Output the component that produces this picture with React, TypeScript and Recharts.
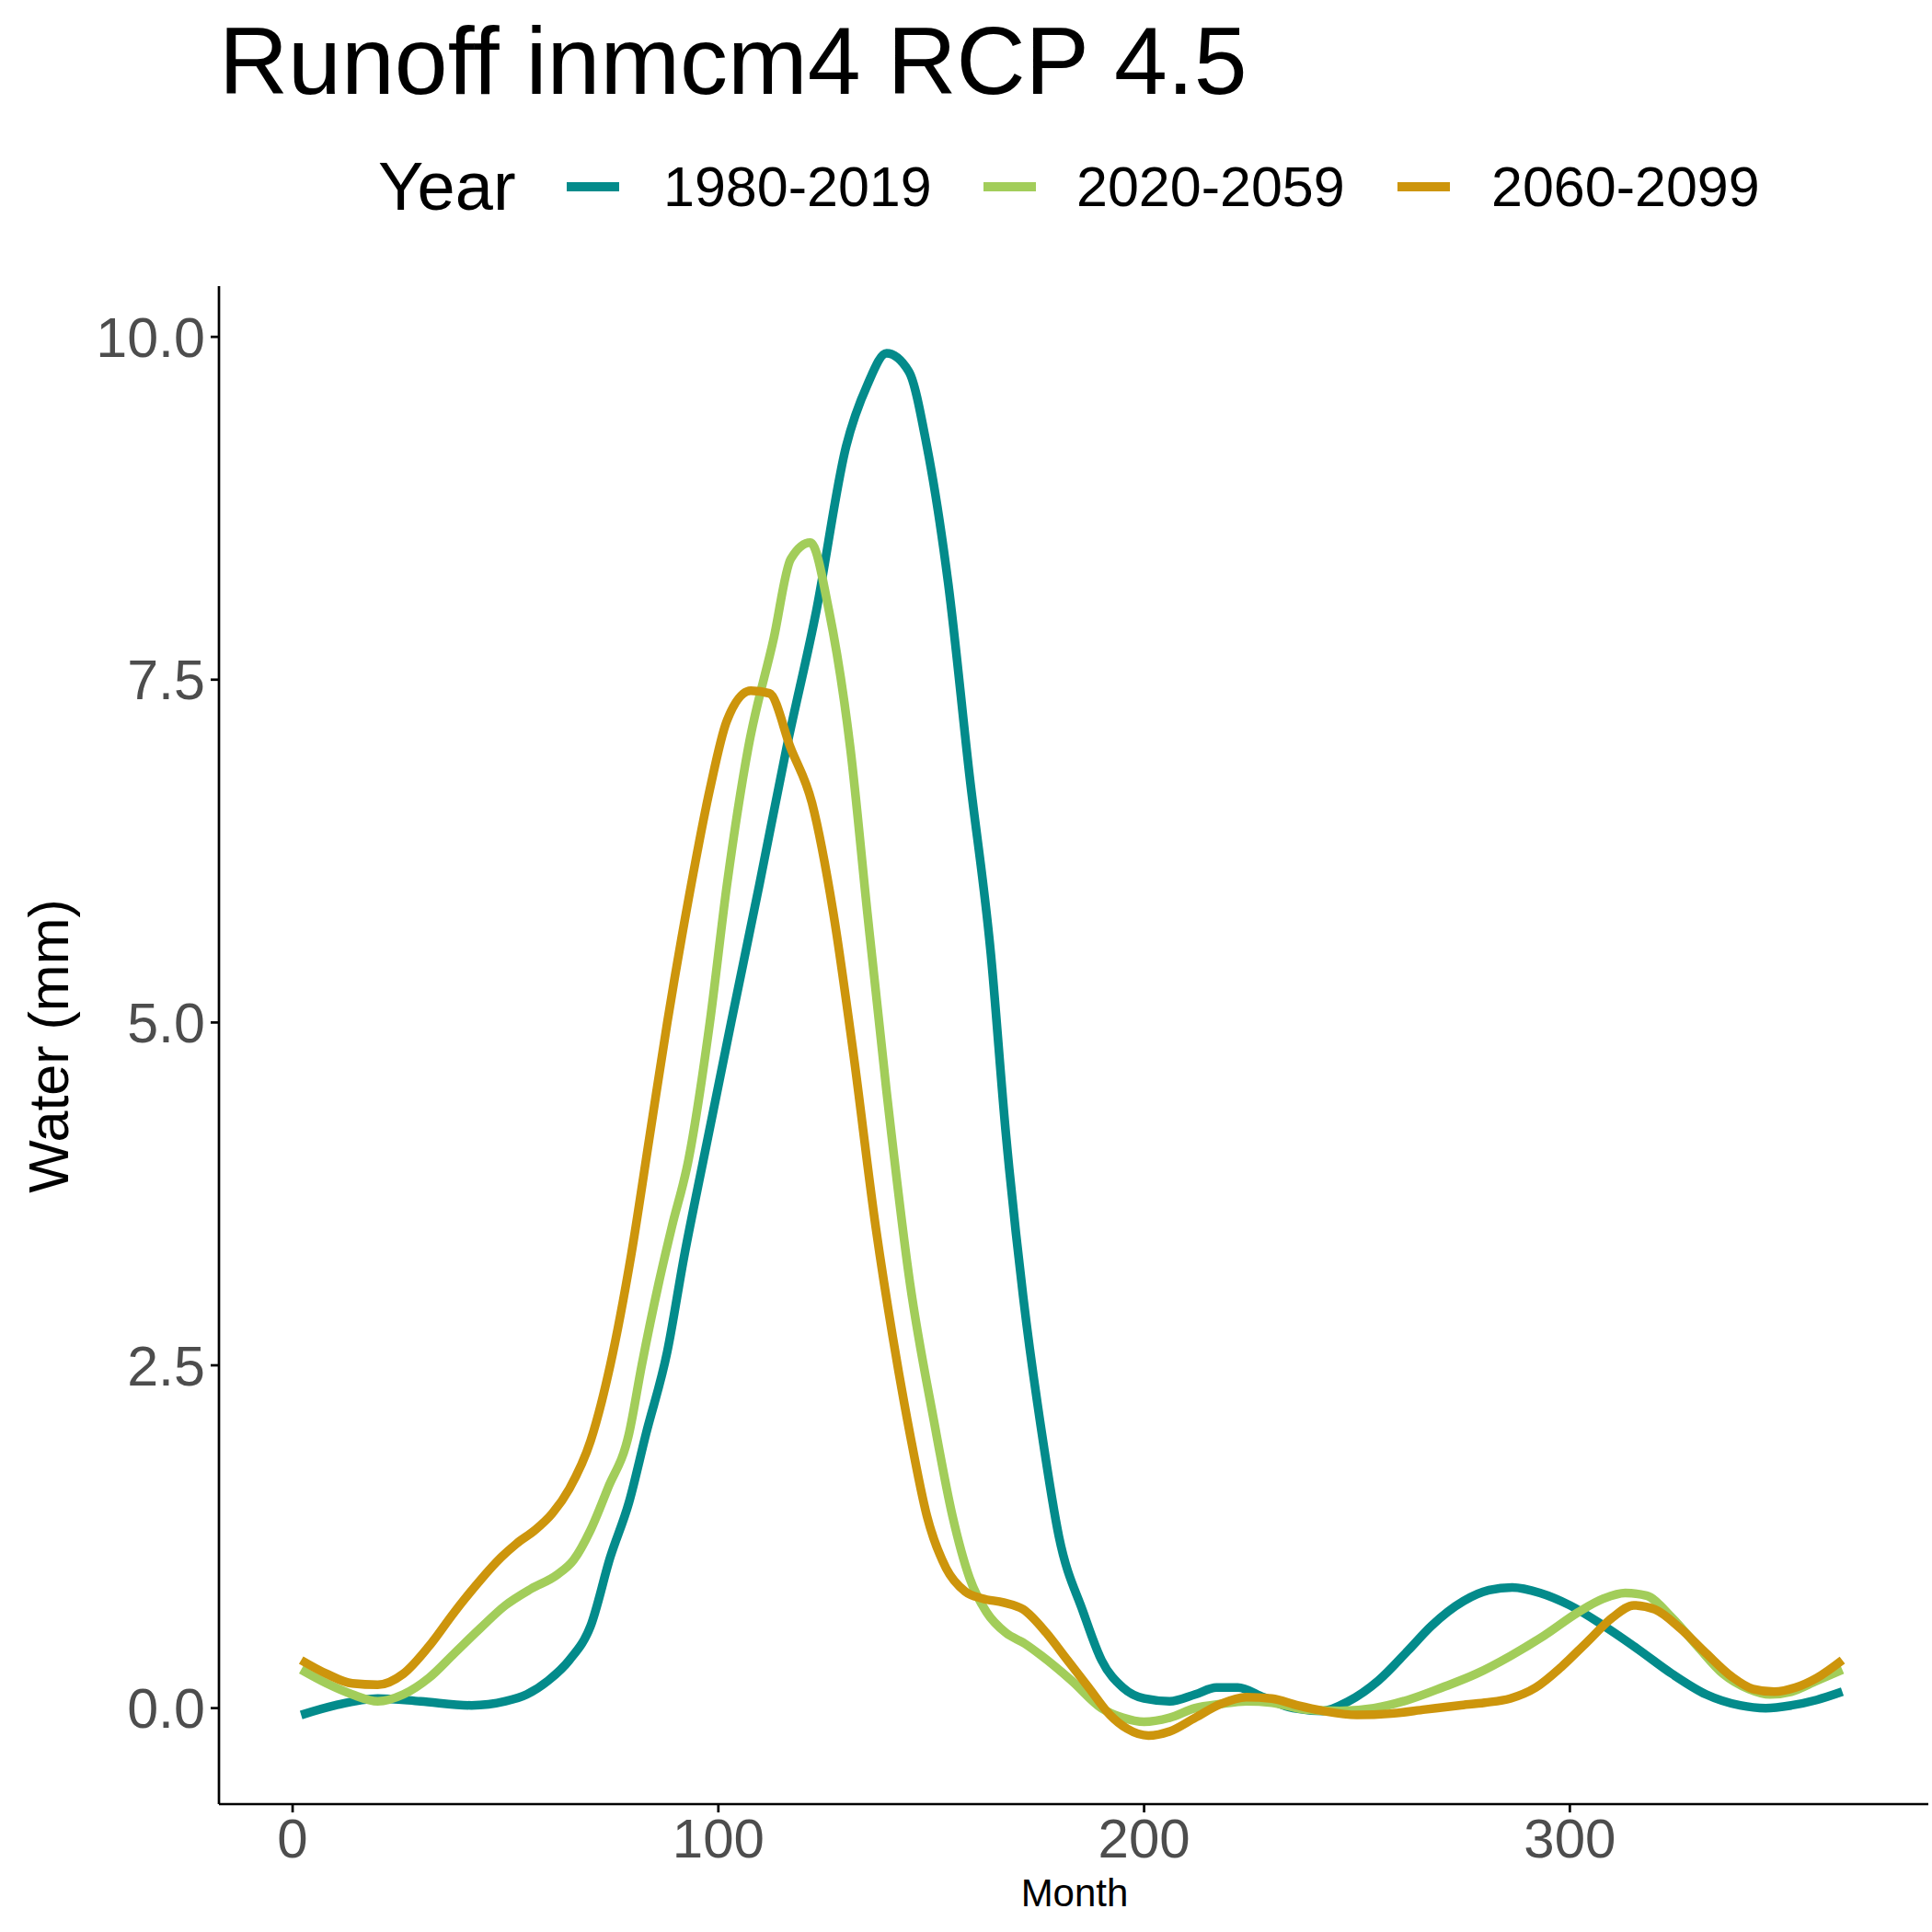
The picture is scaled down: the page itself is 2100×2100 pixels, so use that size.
import React from "react";
import { LineChart, Line, XAxis, YAxis } from "recharts";

const seriesNames = ["1980-2019", "2020-2059", "2060-2099"];
const colors = ["#038b8b", "#a2cd5a", "#cd950c"];

const teal = [
  [2,-0.05],[10,0.02],[20,0.07],[30,0.05],[42,0.02],[50,0.05],[55,0.1],[60,0.2],[65,0.35],[70,0.6],[74.6,1.1],[79,1.5],[83,2.0],[88,2.6],[92,3.3],[96.5,4.0],[103,5.0],[109.6,6.0],[116,7.0],[123,8.0],[130,9.2],[135,9.65],[139.5,9.88],[144.7,9.75],[149,9.2],[154,8.2],[159,6.8],[164,5.5],[167.5,4.2],[171.6,3.0],[176,2.0],[180,1.25],[185.7,0.7],[190,0.35],[195,0.15],[200,0.07],[206,0.05],[212,0.1],[217,0.15],[222,0.15],[228,0.08],[235,0.0],[242,-0.02],[248,0.05],[255,0.2],[262,0.42],[267.5,0.6],[275,0.78],[281,0.86],[286.5,0.88],[293,0.84],[300,0.75],[308,0.6],[316,0.43],[324,0.25],[332,0.1],[340,0.02],[346,0.0],[352,0.02],[358,0.06],[364,0.12],
];
const green = [
  [2,0.28],[8,0.18],[14,0.1],[20,0.05],[26,0.1],[32,0.22],[38,0.4],[44,0.58],[50,0.75],[56,0.87],[62,0.97],[66,1.08],[70,1.3],[74,1.6],[79,2.0],[82,2.5],[86,3.1],[89,3.5],[93,4.0],[98,5.0],[102,6.0],[107,7.0],[113,7.8],[117,8.38],[121.6,8.5],[126,8.0],[131,7.0],[135,5.8],[139.5,4.5],[145,3.1],[150.6,2.1],[155,1.4],[159,0.95],[163,0.7],[167.5,0.55],[172,0.47],[176,0.38],[183,0.2],[190,0.0],[195,-0.07],[200,-0.1],[206,-0.07],[212,0.0],[218,0.03],[224,0.05],[230,0.04],[238,-0.01],[246,-0.02],[254,0.0],[262,0.06],[270,0.15],[278,0.25],[286,0.38],[294,0.53],[302,0.7],[308,0.8],[313,0.84],[318,0.82],[324,0.66],[330,0.45],[336,0.25],[342,0.14],[347,0.1],[352,0.12],[358,0.2],[364,0.28],
];
const orange = [
  [2,0.35],[8,0.25],[14,0.18],[20,0.17],[26,0.25],[32,0.45],[38,0.7],[44,0.93],[49,1.1],[52.6,1.2],[57,1.3],[61,1.42],[65,1.6],[70,1.95],[74.6,2.5],[79.5,3.3],[84,4.2],[88,5.0],[93,5.9],[98,6.7],[102,7.2],[107.6,7.42],[112,7.4],[117,7.0],[122,6.6],[127,5.8],[131.6,4.8],[137,3.5],[141,2.7],[145,2.0],[149,1.4],[153.5,1.02],[158,0.85],[162,0.8],[167,0.77],[171.6,0.72],[177,0.55],[182,0.35],[187,0.15],[192,-0.05],[196,-0.15],[201,-0.2],[206,-0.17],[212,-0.07],[218,0.03],[224,0.08],[230,0.07],[236,0.02],[242,-0.02],[250,-0.05],[258,-0.04],[266,-0.01],[274,0.02],[280,0.04],[286,0.07],[292,0.15],[298,0.3],[304,0.48],[310,0.66],[315,0.75],[320,0.72],[326,0.58],[332,0.4],[338,0.23],[343,0.14],[348,0.12],[353,0.15],[358,0.22],[364,0.35],
];

const xTicks = [0, 100, 200, 300];
const yTicks = [0, 2.5, 5, 7.5, 10];

const toData = (a: number[][]) => a.map(([x, y]) => ({ x, y }));
const allSeries = [teal, green, orange].map(toData);

const font = "Arial, 'Liberation Sans', sans-serif";

export default function App() {
  return (
    <div style={{ position: "absolute", left: 0, top: 0, width: 2100, height: 2100, background: "#fff", fontFamily: font }}>
      <LineChart width={2100} height={2100} margin={{ top: 311, right: 4, bottom: 59, left: 138 }}>
        <XAxis
          type="number"
          dataKey="x"
          domain={[-17.3, 384.2]}
          ticks={xTicks}
          allowDataOverflow
          height={80}
          tickSize={9}
          tickMargin={6}
          stroke="#000"
          strokeWidth={2.7}
          tick={{ fill: "#4d4d4d", fontSize: 60, fontFamily: font }}
        />
        <YAxis
          type="number"
          dataKey="y"
          domain={[-0.7, 10.37]}
          ticks={yTicks}
          allowDataOverflow
          width={100}
          tickSize={9}
          tickMargin={6}
          stroke="#000"
          strokeWidth={2.7}
          tickFormatter={(v: number) => v.toFixed(1)}
          tick={{ fill: "#4d4d4d", fontSize: 61, fontFamily: font }}
        />
        {allSeries.map((d, i) => (
          <Line
            key={seriesNames[i]}
            data={d}
            dataKey="y"
            type="monotone"
            stroke={colors[i]}
            strokeWidth={9.5}
            dot={false}
            isAnimationActive={false}
          />
        ))}
      </LineChart>
      <svg width={2100} height={2100} style={{ position: "absolute", left: 0, top: 0, pointerEvents: "none" }}>
        <text x={238} y={102} fontSize={104} fontFamily={font} fill="#000">Runoff inmcm4 RCP 4.5</text>
        <text x={411} y={228} fontSize={74} fontFamily={font} fill="#000">Year</text>
        {seriesNames.map((n, i) => {
          const kx = [616, 1069, 1519][i];
          const tx = [721, 1170, 1621][i];
          return (
            <g key={n}>
              <line x1={kx} x2={kx + 57} y1={203} y2={203} stroke={colors[i]} strokeWidth={10} />
              <text x={tx} y={224} fontSize={61} fontFamily={font} fill="#000">{n}</text>
            </g>
          );
        })}
        <text x={1168} y={2072} fontSize={42} fontFamily={font} textAnchor="middle" fill="#000">Month</text>
        <text transform="translate(74,1137) rotate(-90)" fontSize={61} fontFamily={font} textAnchor="middle" fill="#000">Water (mm)</text>
      </svg>
    </div>
  );
}
